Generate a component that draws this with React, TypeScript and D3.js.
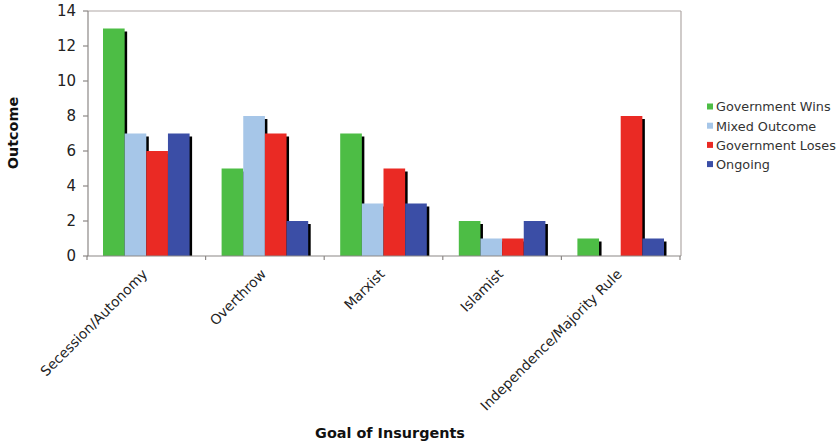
import React from "react";
import * as d3 from "d3";

const categories = ["Secession/Autonomy", "Overthrow", "Marxist", "Islamist", "Independence/Majority Rule"];
const seriesNames = ["Government Wins", "Mixed Outcome", "Government Loses", "Ongoing"];
const seriesColors = ["#4dbd45", "#a6c6e8", "#ea2a24", "#3b4ea6"];
const governmentWins = [13, 5, 7, 2, 1];
const mixedOutcome = [7, 8, 3, 1, 0];
const governmentLoses = [6, 7, 5, 1, 8];
const ongoing = [7, 2, 3, 2, 1];
const yTicks = [0, 2, 4, 6, 8, 10, 12, 14];

const seriesValues = [governmentWins, mixedOutcome, governmentLoses, ongoing];

const W = 838;
const H = 445;
const left = 88;
const right = 681;
const top = 11;
const bottom = 256;
const FONT = "'DejaVu Sans', Verdana, sans-serif";

export default function App() {
  const x = d3.scaleBand<string>().domain(categories).range([left - 1, right - 1]).paddingInner(0).paddingOuter(0);
  const inner = d3
    .scaleBand<number>()
    .domain(d3.range(seriesNames.length))
    .range([16, x.bandwidth() - 16]);
  const y = d3.scaleLinear().domain([0, 14]).range([bottom, top]);

  const bars: React.ReactNode[] = [];
  categories.forEach((cat, ci) => {
    seriesValues.forEach((vals, si) => {
      const v = vals[ci];
      if (v <= 0) return;
      const bx = (x(cat) as number) + (inner(si) as number);
      const bw = inner.bandwidth();
      const by = y(v);
      const bh = y(0) - by;
      bars.push(
        <rect key={`s-${ci}-${si}`} x={bx + 2.5} y={by + 3} width={bw} height={Math.max(0, bh - 3)} fill="#000" />
      );
      bars.push(<rect key={`b-${ci}-${si}`} x={bx} y={by} width={bw} height={bh} fill={seriesColors[si]} />);
    });
  });

  const boundaries = [...categories.map((c) => x(c) as number), (x(categories[categories.length - 1]) as number) + x.bandwidth()];

  return (
    <svg width={W} height={H} style={{ position: "absolute", left: 0, top: 0, background: "#fff" }} fontFamily={FONT}>
      <rect x={0} y={0} width={W} height={H} fill="#fff" />
      {/* plot border */}
      <line x1={left} x2={right} y1={top} y2={top} stroke="#b0a8a6" strokeWidth={1.2} />
      <line x1={right} x2={right} y1={top} y2={bottom} stroke="#b0a8a6" strokeWidth={1.2} />
      {bars}
      {/* y axis */}
      <line x1={left} x2={left} y1={top} y2={bottom} stroke="#8c8886" strokeWidth={1.2} />
      {yTicks.map((t) => (
        <g key={t}>
          <line x1={left - 5} x2={left} y1={y(t)} y2={y(t)} stroke="#8c8886" strokeWidth={1.2} />
          <text x={left - 12} y={y(t)} dy="0.36em" textAnchor="end" fontSize={15} fill="#222">
            {t}
          </text>
        </g>
      ))}
      {/* x axis */}
      <line x1={left - 1} x2={right} y1={bottom} y2={bottom} stroke="#8c8886" strokeWidth={1.2} />
      {boundaries.map((b, i) => (
        <line key={i} x1={b} x2={b} y1={bottom} y2={bottom + 4} stroke="#8c8886" strokeWidth={1.2} />
      ))}
      {categories.map((c) => {
        const cx = (x(c) as number) + x.bandwidth() / 2 + 2;
        const cy = bottom + 19;
        return (
          <text
            key={c}
            x={cx}
            y={cy}
            textAnchor="end"
            fontSize={13.8}
            fill="#222"
            transform={`rotate(-45 ${cx} ${cy})`}
          >
            {c}
          </text>
        );
      })}
      {/* axis titles */}
      <text x={390} y={438} textAnchor="middle" fontSize={14.4} fontWeight="bold" fill="#111">
        Goal of Insurgents
      </text>
      <text
        x={17.5}
        y={133}
        textAnchor="middle"
        fontSize={14.4}
        fontWeight="bold"
        fill="#111"
        transform="rotate(-90 17.5 133)"
      >
        Outcome
      </text>
      {/* legend */}
      {seriesNames.map((n, i) => {
        const ly = 107 + i * 19.2;
        return (
          <g key={n}>
            <rect x={707} y={ly - 3.5} width={6} height={6} fill={seriesColors[i]} />
            <text x={716} y={ly} dy="0.35em" fontSize={12.8} fill="#333">
              {n}
            </text>
          </g>
        );
      })}
    </svg>
  );
}
